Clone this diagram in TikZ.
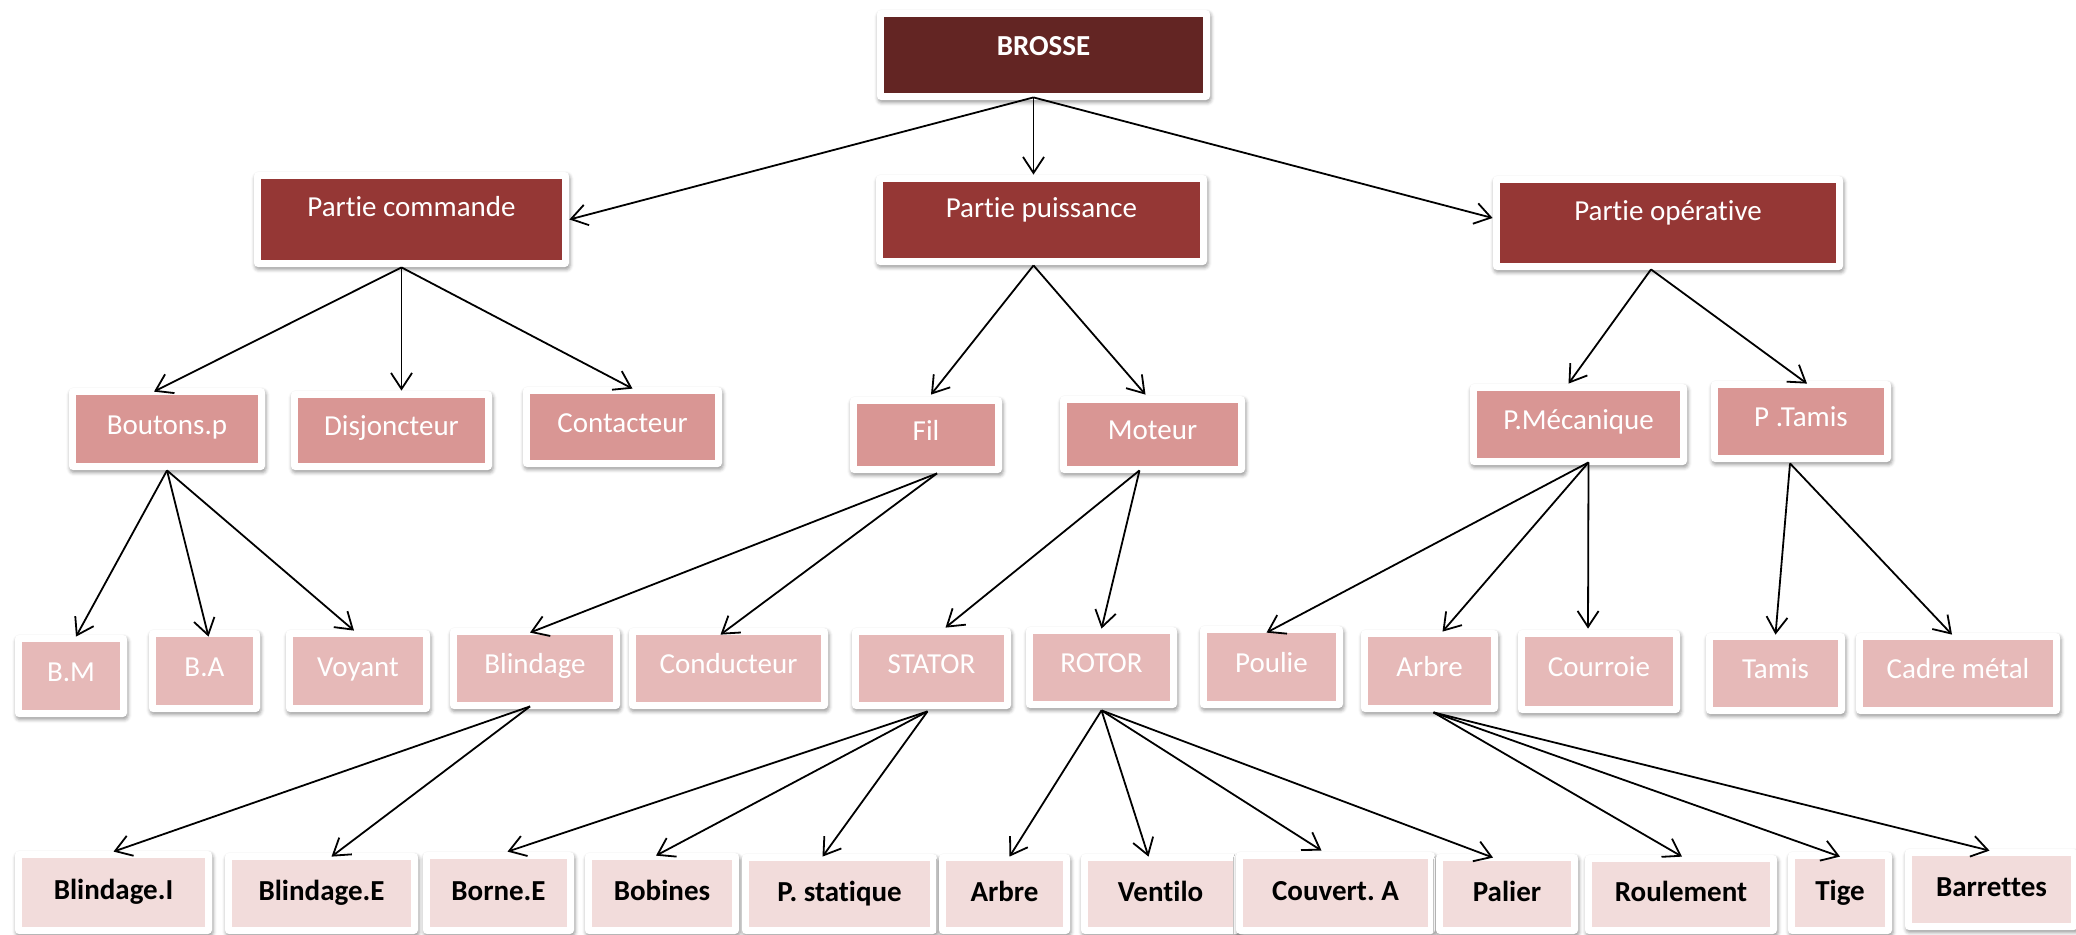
\documentclass[tikz,border=0pt]{standalone}
\usepackage{fontspec}
\setmainfont[Ligatures=NoCommon]{Carlito}
\frenchspacing
\usetikzlibrary{arrows.meta,shadows.blur}

% fill colours of the five levels of the tree
\definecolor{lv0}{HTML}{632523}
\definecolor{lv1}{HTML}{953735}
\definecolor{lv2}{HTML}{D99694}
\definecolor{lv3}{HTML}{E6B9B8}
\definecolor{lv4}{HTML}{F2DCDB}

\tikzset{
  outerbox/.style={rectangle, rounded corners=2pt, fill=white, inner sep=0pt,
    blur shadow={shadow xshift=0.5pt, shadow yshift=-1.3pt,
                 shadow blur radius=1.8pt, shadow opacity=40}},
  lbl/.style={inner sep=0pt, font=\fontsize{14.5pt}{17pt}\selectfont},
  tz0/.style={lbl, text=white, font=\fontsize{14.5pt}{17pt}\selectfont\bfseries},
  tz1/.style={lbl, text=white},
  tz2/.style={lbl, text=white},
  tz3/.style={lbl, text=white},
  tz4/.style={lbl, text=black, font=\fontsize{14.5pt}{17pt}\selectfont\bfseries},
  conn/.style={draw=black, line width=0.9pt,
    -{Straight Barb[length=8pt,width=10.5pt]}},
}

% baseline offset of the label below the box centre, per level (px)
\newcommand\levoff[1]{\ifcase#1 0\or -3\or 5\or 5\or 7\fi}

% \bx{name}{x1}{y1}{x2}{y2}{level}{label}: framed box with coloured inset
\newcommand\bx[7]{%
  \node[outerbox, minimum width={(#4-#2)*0.5pt}, minimum height={(#5-#3)*0.5pt}]
    (#1) at ({(#2+#4)/2},{(#3+#5)/2}) {};
  \fill[lv#6] ([shift={(7.5,7.5)}]#1.north west) rectangle ([shift={(-7.5,-7.5)}]#1.south east);
  \node[tz#6, anchor=base] (#1-t) at ([shift={(0,\levoff{#6})}]#1.center) {#7};
}

\begin{document}
\begin{tikzpicture}[x=0.5pt, y=-0.5pt]
\useasboundingbox (0,0) rectangle (2076,934);

% level 0
\bx{br}{877}{10}{1210}{100}{0}{BROSSE}

% level 1
\bx{pc}{254}{172}{569}{267}{1}{Partie commande}
\bx{pp}{876}{175}{1207}{265}{1}{Partie puissance}
\bx{po}{1493}{176}{1843}{270}{1}{Partie opérative}

% level 2
\bx{bp}{69}{388}{265}{470}{2}{Boutons.p}
\bx{dj}{291}{391}{492}{470}{2}{Disjoncteur}
\bx{ct}{523}{387}{722}{467}{2}{Contacteur}
\bx{fil}{850}{397}{1002}{473}{2}{Fil}
\bx{mot}{1060}{396}{1245}{473}{2}{Moteur}
\bx{pm}{1470}{384}{1687}{465}{2}{P.Mécanique}
\bx{pt}{1711}{381}{1891}{462}{2}{P .Tamis}

% level 3
\bx{bm}{15}{635}{127}{717}{3}{B.M}
\bx{ba}{149}{630}{260}{712}{3}{B.A}
\bx{vy}{286}{630}{430}{712}{3}{Voyant}
\bx{bl}{450}{628}{620}{709}{3}{Blindage}
\bx{cd}{629}{628}{828}{709}{3}{Conducteur}
\bx{st}{852}{628}{1011}{709}{3}{STATOR}
\bx{rt}{1026}{627}{1177}{708}{3}{ROTOR}
\bx{pl}{1200}{626}{1343}{708}{3}{Poulie}
\bx{ar}{1361}{630}{1498}{712}{3}{Arbre}
\bx{cr}{1518}{630}{1680}{713}{3}{Courroie}
\bx{tm}{1706}{633}{1845}{714}{3}{Tamis}
\bx{cm}{1856}{633}{2060}{714}{3}{Cadre métal}

% level 4
\bx{bI}{15}{851}{212}{934}{4}{Blindage.I}
\bx{bE}{225}{853}{418}{934}{4}{Blindage.E}
\bx{bo}{423}{852}{574}{934}{4}{Borne.E}
\bx{bb}{585}{853}{739}{934}{4}{Bobines}
\bx{ps}{742}{854}{937}{934}{4}{P. statique}
\bx{a2}{939}{854}{1070}{934}{4}{Arbre}
\bx{ve}{1081}{854}{1240}{934}{4}{Ventilo}
\bx{co}{1236}{852}{1435}{934}{4}{Couvert. A}
\bx{pa}{1436}{854}{1578}{934}{4}{Palier}
\bx{ro}{1585}{855}{1777}{934}{4}{Roulement}
\bx{ti}{1788}{852}{1892}{934}{4}{Tige}
\bx{bt}{1905}{849}{2078}{930}{4}{Barrettes}

% BROSSE
\draw[conn] ([shift={(-10,-3)}]br.south) -- (pc.east);
\draw[conn] ([shift={(-10,-3)}]br.south) -- ([shift={(-8,0)}]pp.north);
\draw[conn] ([shift={(-10,-3)}]br.south) -- ([shift={(0,-5)}]po.west);

% level 1 -> level 2
\draw[conn] ([shift={(-10,0)}]pc.south) -- ([shift={(-13,4)}]bp.north);
\draw[conn] ([shift={(-10,0)}]pc.south) -- ([shift={(10,0)}]dj.north);
\draw[conn] ([shift={(-10,0)}]pc.south) -- ([shift={(10,2)}]ct.north);
\draw[conn] ([shift={(-8,0)}]pp.south) -- ([shift={(5,-2)}]fil.north);
\draw[conn] ([shift={(-8,0)}]pp.south) -- ([shift={(-7,-1)}]mot.north);
\draw[conn] ([shift={(-17,-1)}]po.south) -- ([shift={(-10,0)}]pm.north);
\draw[conn] ([shift={(-17,-1)}]po.south) -- ([shift={(6,3)}]pt.north);

% level 2 -> level 3
\draw[conn] (bp.south) -- ([shift={(5,2)}]bm.north);
\draw[conn] (bp.south) -- ([shift={(4,7)}]ba.north);
\draw[conn] (bp.south) -- ([shift={(-4,1)}]vy.north);
\draw[conn] ([shift={(11,0)}]fil.south) -- ([shift={(-5,5)}]bl.north);
\draw[conn] ([shift={(11,0)}]fil.south) -- ([shift={(-8,7)}]cd.north);
\draw[conn] ([shift={(-13,-3)}]mot.south) -- ([shift={(14,0)}]st.north);
\draw[conn] ([shift={(-13,-3)}]mot.south) -- ([shift={(0,2)}]rt.north);
\draw[conn] ([shift={(10,-3)}]pm.south) -- ([shift={(-5,7)}]pl.north);
\draw[conn] ([shift={(10,-3)}]pm.south) -- ([shift={(13,2)}]ar.north);
\draw[conn] ([shift={(10,-3)}]pm.south) -- ([shift={(-11,-1)}]cr.north);
\draw[conn] ([shift={(-11,1)}]pt.south) -- ([shift={(0,2)}]tm.north);
\draw[conn] ([shift={(-11,1)}]pt.south) -- ([shift={(-6,2)}]cm.north);

% level 3 -> level 4
\draw[conn] ([shift={(-5,-3)}]bl.south) -- ([shift={(0,1)}]bI.north);
\draw[conn] ([shift={(-5,-3)}]bl.south) -- ([shift={(10,4)}]bE.north);
\draw[conn] ([shift={(-4,2)}]st.south) -- ([shift={(9,0)}]bo.north);
\draw[conn] ([shift={(-4,2)}]st.south) -- ([shift={(-6,3)}]bb.north);
\draw[conn] ([shift={(-4,2)}]st.south) -- ([shift={(-17,3)}]ps.north);
\draw[conn] ([shift={(0,2)}]rt.south) -- ([shift={(5,3)}]a2.north);
\draw[conn] ([shift={(0,2)}]rt.south) -- ([shift={(-12,3)}]ve.north);
\draw[conn] ([shift={(0,2)}]rt.south) -- ([shift={(-14,-1)}]co.north);
\draw[conn] ([shift={(0,2)}]rt.south) -- ([shift={(-14,4)}]pa.north);
\draw[conn] ([shift={(4,0)}]ar.south) -- ([shift={(1,2)}]ro.north);
\draw[conn] ([shift={(4,0)}]ar.south) -- ([shift={(0,5)}]ti.north);
\draw[conn] ([shift={(4,0)}]ar.south) -- ([shift={(-2,2)}]bt.north);
\end{tikzpicture}
\end{document}
